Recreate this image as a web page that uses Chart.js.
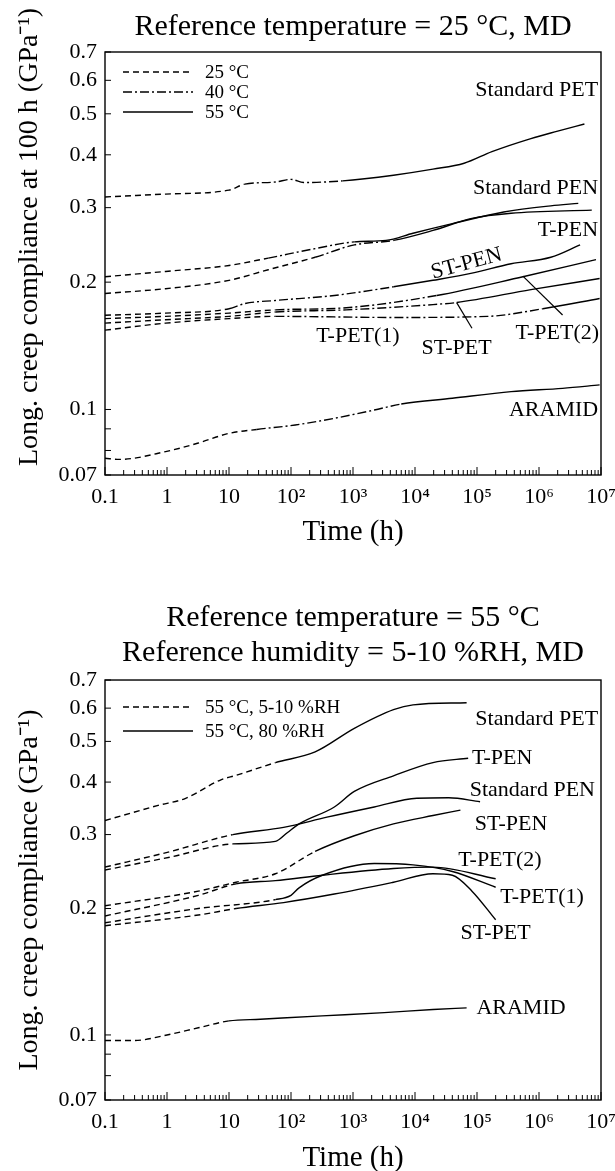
<!DOCTYPE html>
<html lang="en">
<head>
<meta charset="UTF-8">
<title>Long. creep compliance master curves</title>
<script src="https://cdn.jsdelivr.net/npm/chart.js@4.4.1/dist/chart.umd.min.js"></script>
<style>
  html, body { margin: 0; padding: 0; background: #fff; }
  canvas { position: absolute; left: 0; }
  #topChart { top: 0; }
  #bottomChart { top: 585px; }
</style>
</head>
<body>
<canvas id="topChart" width="615" height="585"></canvas>
<canvas id="bottomChart" width="615" height="586"></canvas>
<script>
// curve names, same order in both panels
const materials = ['Standard PET', 'Standard PEN', 'T-PEN', 'ST-PEN', 'T-PET(2)', 'ST-PET', 'T-PET(1)', 'ARAMID'];

// axis ticks
const xTickVals = [0.1, 1, 10, 100, 1e3, 1e4, 1e5, 1e6, 1e7];
const xTickLabels = ['0.1', '1', '10', '10²', '10³', '10⁴', '10⁵', '10⁶', '10⁷'];
const yTickVals = [0.07, 0.1, 0.2, 0.3, 0.4, 0.5, 0.6, 0.7];
const yTickLabels = ['0.07', '0.1', '0.2', '0.3', '0.4', '0.5', '0.6', '0.7'];
const yMinorVals = [0.08, 0.09];

// top panel, reference temperature 25 °C : [time (h), compliance (GPa^-1)]
const topStdPET = [[0.1,0.318],[0.95,0.323],[10,0.330],[18,0.341],[56,0.345],[100,0.350],[160,0.344],[680,0.347],[4500,0.358],[19500,0.370],[62000,0.382],[174000,0.407],[740000,0.437],[2.0e6,0.455],[5.4e6,0.473]];
const topStdPEN = [[0.1,0.206],[0.95,0.212],[10,0.219],[43,0.228],[245,0.240],[1050,0.249],[3400,0.251],[9300,0.261],[40000,0.275],[270000,0.293],[1.55e6,0.303],[4.3e6,0.307]];
const topTPEN   = [[0.1,0.188],[0.95,0.193],[10,0.202],[43,0.214],[245,0.229],[1050,0.245],[4500,0.251],[19500,0.265],[83000,0.283],[355000,0.291],[7.1e6,0.296]];
const topSTPEN  = [[0.1,0.167],[0.95,0.169],[10,0.173],[18,0.178],[56,0.181],[500,0.186],[4500,0.195],[19500,0.202],[83000,0.210],[355000,0.221],[1.55e6,0.229],[4.6e6,0.245]];
const topTPET2  = [[0.1,0.164],[0.95,0.166],[10,0.169],[56,0.172],[780,0.174],[22400,0.186],[550000,0.206],[8.3e6,0.226]];
const topSTPET  = [[0.1,0.160],[0.95,0.163],[10,0.166],[56,0.170],[780,0.172],[19500,0.177],[47000,0.179],[740000,0.192],[9.5e6,0.204]];
const topTPET1  = [[0.1,0.154],[0.95,0.160],[10,0.164],[56,0.166],[4500,0.165],[148000,0.166],[1.15e6,0.173],[9.5e6,0.183]];
const topARAMID = [[0.1,0.0767],[0.17,0.0762],[0.95,0.0795],[3.1,0.0832],[10,0.0878],[28,0.0897],[117,0.0919],[500,0.0953],[2200,0.0997],[6000,0.103],[40000,0.1063],[355000,0.1102],[2.4e6,0.1122],[9.5e6,0.1143]];
// times (h) where the shifted 25 °C data hands over to 40 °C, and 40 °C to 55 °C
const topBreaks = [[13,600],[25,1000],[50,2000],[6,800],[50,20000],[50,40000],[30,150000],[15,4500]];

// bottom panel, reference 55 °C / 5-10 %RH
const botStdPET = [[0.1,0.324],[0.72,0.352],[2,0.366],[7.4,0.405],[13,0.415],[56,0.445],[245,0.472],[1050,0.537],[4500,0.595],[9300,0.611],[68000,0.618]];
const botStdPEN = [[0.1,0.251],[1.1,0.273],[11.5,0.300],[76,0.312],[380,0.330],[2200,0.349],[10700,0.366],[35000,0.367],[112000,0.359]];
const botTPEN   = [[0.1,0.247],[1.1,0.265],[11.5,0.285],[56,0.289],[87,0.303],[135,0.318],[500,0.349],[1050,0.380],[4500,0.414],[19500,0.445],[72000,0.456]];
const botSTPEN  = [[0.1,0.203],[3.2,0.220],[13,0.231],[56,0.242],[245,0.2735],[1050,0.298],[4500,0.318],[19500,0.333],[54000,0.343]];
const botTPET2  = [[0.1,0.192],[3.2,0.215],[13,0.229],[56,0.233],[320,0.240],[4500,0.249],[19500,0.251],[200000,0.2355]];
const botSTPET  = [[0.1,0.182],[3.2,0.193],[13,0.200],[76,0.2066],[500,0.2165],[4500,0.231],[19500,0.242],[40000,0.240],[83000,0.220],[200000,0.188]];
const botTPET1  = [[0.1,0.185],[3.2,0.200],[56,0.210],[100,0.215],[135,0.224],[320,0.240],[2200,0.256],[9300,0.254],[40000,0.245],[200000,0.2247]];
const botARAMID = [[0.1,0.097],[0.3,0.097],[1,0.100],[3.2,0.104],[10,0.108],[32,0.109],[316,0.111],[3200,0.113],[19500,0.115],[68000,0.116]];
// time (h) where 5-10 %RH data hands over to 80 %RH
const botBreaks = [[40],[11],[11],[60],[13],[13],[20],[8]];

// labels written next to the curves: [text, time, compliance, align, angle]
const topCurveLabels = [
  ['Standard PET', 9e6, 0.569, 'right', 0],
  ['Standard PEN', 9e6, 0.333, 'right', 0],
  ['T-PEN', 9e6, 0.266, 'right', 0],
  ['ST-PEN', 68000, 0.221, 'center', -15],
  ['T-PET(1)', 1200, 0.1486, 'center', 0],
  ['ST-PET', 47000, 0.1395, 'center', 0],
  ['T-PET(2)', 9.3e6, 0.1513, 'right', 0],
  ['ARAMID', 9e6, 0.0997, 'right', 0]
];
const topPointers = [[2.4e6,0.1672,550000,0.2066],[83000,0.1556,47000,0.1789]];
const botCurveLabels = [
  ['Standard PET', 9e6, 0.565, 'right', 0],
  ['T-PEN', 83000, 0.456, 'left', 0],
  ['Standard PEN', 8e6, 0.383, 'right', 0],
  ['ST-PEN', 355000, 0.318, 'center', 0],
  ['T-PET(2)', 234000, 0.261, 'center', 0],
  ['T-PET(1)', 1.12e6, 0.2125, 'center', 0],
  ['ST-PET', 200000, 0.1745, 'center', 0],
  ['ARAMID', 513000, 0.1156, 'center', 0]
];

const topLegend = ['25 °C', '40 °C', '55 °C'];
const botLegend = ['55 °C, 5-10 %RH', '55 °C, 80 %RH'];

const DASHED = [6, 4];
const DASHDOT = [9, 3, 2, 3];
const SOLID = [];

Chart.defaults.font.family = '"Liberation Serif", "Times New Roman", serif';
Chart.defaults.color = '#000';

// frame, inward ticks, curve labels, legend and the y title
const decor = {
  id: 'decor',
  afterDraw(chart, args, o) {
    const { ctx, chartArea: a, scales: { x, y } } = chart;
    ctx.save();
    ctx.strokeStyle = '#000';
    ctx.fillStyle = '#000';
    ctx.lineWidth = 1.4;
    ctx.strokeRect(a.left, a.top, a.right - a.left, a.bottom - a.top);

    ctx.lineWidth = 1;
    ctx.beginPath();
    xTickVals.forEach((d, i) => {
      const px = x.getPixelForValue(d);
      ctx.moveTo(px, a.bottom); ctx.lineTo(px, a.bottom - 8);
      if (i < xTickVals.length - 1) {
        for (let k = 2; k <= 9; k++) {
          const pk = x.getPixelForValue(d * k);
          ctx.moveTo(pk, a.bottom); ctx.lineTo(pk, a.bottom - 5);
        }
      }
    });
    yTickVals.concat(yMinorVals).forEach(v => {
      const py = y.getPixelForValue(v);
      ctx.moveTo(a.left, py); ctx.lineTo(a.left + 6, py);
    });
    ctx.stroke();

    ctx.lineWidth = 1.2;
    (o.pointers || []).forEach(p => {
      ctx.beginPath();
      ctx.moveTo(x.getPixelForValue(p[0]), y.getPixelForValue(p[1]));
      ctx.lineTo(x.getPixelForValue(p[2]), y.getPixelForValue(p[3]));
      ctx.stroke();
    });

    ctx.font = '22px "Liberation Serif"';
    ctx.textBaseline = 'middle';
    o.labels.forEach(l => {
      ctx.save();
      ctx.translate(x.getPixelForValue(l[1]), y.getPixelForValue(l[2]));
      ctx.rotate(l[4] * Math.PI / 180);
      ctx.textAlign = l[3];
      ctx.fillText(l[0], 0, 0);
      ctx.restore();
    });

    ctx.font = '19px "Liberation Serif"';
    ctx.textAlign = 'left';
    o.legend.forEach((txt, i) => {
      const ly = a.top + o.legendTop + i * o.legendGap;
      ctx.setLineDash(o.legendDash[i]);
      ctx.lineWidth = 1.3;
      ctx.beginPath();
      ctx.moveTo(a.left + 18, ly); ctx.lineTo(a.left + 88, ly);
      ctx.stroke();
      ctx.setLineDash([]);
      ctx.fillText(txt, a.left + 100, ly + 1);
    });

    ctx.font = '28px "Liberation Serif"';
    ctx.translate(37, o.yTitleY);
    ctx.rotate(-Math.PI / 2);
    ctx.textAlign = 'center';
    ctx.textBaseline = 'alphabetic';
    ctx.fillText(o.yTitle, 0, 0);
    ctx.restore();
  }
};

function makeDatasets(series, breaks, styles) {
  return series.map((pts, i) => ({
    label: materials[i],
    data: pts.map(p => ({ x: p[0], y: p[1] })),
    borderColor: '#000',
    borderWidth: 1.4,
    pointRadius: 0,
    cubicInterpolationMode: 'monotone',
    segment: {
      borderDash: ctx => {
        const t = ctx.p0.parsed.x;
        let k = 0;
        while (k < breaks[i].length && t >= breaks[i][k]) k++;
        return styles[k];
      }
    }
  }));
}

function makeChart(id, p) {
  return new Chart(document.getElementById(id), {
    type: 'line',
    data: { datasets: makeDatasets(p.series, p.breaks, p.styles) },
    plugins: [decor],
    options: {
      responsive: false,
      animation: false,
      layout: { padding: { left: 0, right: 14, top: 0, bottom: 0 } },
      plugins: {
        legend: { display: false },
        tooltip: { enabled: false },
        title: {
          display: true,
          text: p.title,
          fullSize: false,
          color: '#000',
          font: { size: 30, weight: 'normal', lineHeight: p.titleLine },
          padding: p.titlePad
        },
        decor: {
          labels: p.labels,
          pointers: p.pointers,
          legend: p.legend,
          legendDash: p.styles,
          legendTop: p.legendTop,
          legendGap: p.legendGap,
          yTitle: p.yTitle,
          yTitleY: p.yTitleY
        }
      },
      scales: {
        x: {
          type: 'logarithmic',
          min: 0.1,
          max: 1e7,
          grid: { display: false, drawTicks: false },
          border: { display: false },
          afterBuildTicks: s => { s.ticks = xTickVals.map(v => ({ value: v })); },
          afterFit: s => { s.height = p.xHeight; s.paddingLeft = 0; s.paddingRight = 0; },
          ticks: {
            autoSkip: false, maxRotation: 0, padding: 9,
            font: { size: 22 },
            callback: (v, i) => xTickLabels[i]
          },
          title: {
            display: true, text: 'Time (h)',
            font: { size: 29, lineHeight: p.xTitleLine },
            padding: { top: 0, bottom: p.xTitlePad }
          }
        },
        y: {
          type: 'logarithmic',
          min: 0.07,
          max: 0.7,
          grid: { display: false, drawTicks: false },
          border: { display: false },
          afterBuildTicks: s => { s.ticks = yTickVals.map(v => ({ value: v })); },
          afterFit: s => { s.width = 105; s.paddingTop = 0; s.paddingBottom = 0; },
          ticks: {
            padding: 8,
            font: { size: 22 },
            callback: (v, i) => yTickLabels[i]
          }
        }
      }
    }
  });
}

makeChart('topChart', {
  series: [topStdPET, topStdPEN, topTPEN, topSTPEN, topTPET2, topSTPET, topTPET1, topARAMID],
  breaks: topBreaks,
  styles: [DASHED, DASHDOT, SOLID],
  title: 'Reference temperature = 25 °C, MD',
  titleLine: 1.2,
  titlePad: { top: 9, bottom: 7 },
  labels: topCurveLabels,
  pointers: topPointers,
  legend: topLegend,
  legendTop: 20,
  legendGap: 20,
  yTitle: 'Long. creep compliance at 100 h (GPa⁻¹)',
  yTitleY: 237,
  xHeight: 110,
  xTitleLine: 1,
  xTitlePad: 38
});

makeChart('bottomChart', {
  series: [botStdPET, botStdPEN, botTPEN, botSTPEN, botTPET2, botSTPET, botTPET1, botARAMID],
  breaks: botBreaks,
  styles: [DASHED, SOLID],
  title: ['Reference temperature = 55 °C', 'Reference humidity = 5-10 %RH, MD'],
  titleLine: 1.167,
  titlePad: { top: 15.5, bottom: 9.5 },
  labels: botCurveLabels,
  pointers: [],
  legend: botLegend,
  legendTop: 27,
  legendGap: 24,
  yTitle: 'Long. creep compliance (GPa⁻¹)',
  yTitleY: 305,
  xHeight: 71,
  xTitleLine: 0.85,
  xTitlePad: 0
});
</script>
</body>
</html>
